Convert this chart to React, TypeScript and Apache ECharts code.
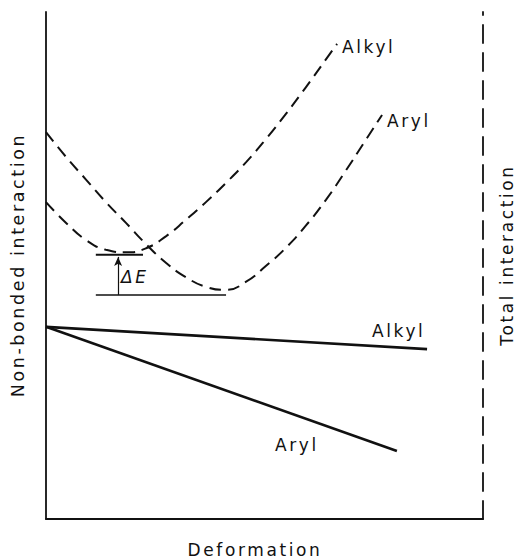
import React, { useEffect, useRef } from "react";
import * as echarts from "echarts";

// Deformation (x, 0..100) vs interaction energy (y, 0..100)
const arylDashed: number[][] = [
  [0, 76.3], [4.6, 71.4], [9.2, 66.9], [13.7, 62.5], [18.3, 58.4], [22.9, 54.2],
  [27.5, 50.5], [32.0, 47.7], [36.6, 45.8], [41.2, 45.2], [45.8, 46.8], [50.3, 49.9],
  [54.9, 53.5], [59.5, 57.9], [64.1, 63.0], [68.6, 68.7], [73.2, 74.8], [76.9, 79.7],
];
const alkylDashed: number[][] = [
  [0, 62.5], [4.6, 58.4], [9.2, 55.0], [13.7, 53.1], [18.3, 52.6], [22.9, 53.4],
  [27.5, 55.8], [32.0, 59.0], [36.6, 62.5], [41.2, 66.3], [45.8, 70.4], [50.3, 74.9],
  [54.9, 79.9], [59.5, 85.2], [64.1, 90.7], [66.6, 93.7],
];
const alkylSolid: number[][] = [[0, 37.9], [87.2, 33.5]];
const arylSolid: number[][] = [[0, 37.9], [80.3, 13.4]];
const deltaUpper: number[][] = [[11.4, 52.1], [22.2, 52.1]];
const deltaLower: number[][] = [[11.4, 44.2], [41.2, 44.2]];
const deltaArrow: number[][] = [[16.5, 44.2], [16.5, 51.7]];

const xTitle = "Deformation";
const leftTitle = "Non-bonded interaction";
const rightTitle = "Total interaction";
const curveLabels = ["Alkyl", "Aryl"];
const deltaLabel = "ΔE";

const INK = "#111";
const FONT = "DejaVu Sans";

export default function App() {
  const ref = useRef<HTMLDivElement>(null);

  useEffect(() => {
    if (!ref.current) return;
    const chart = echarts.init(ref.current, undefined, { renderer: "svg" });
    const txt = (text: string, x: number, y: number, extra: any = {}) => ({
      type: "text",
      x,
      y,
      silent: true,
      ...extra,
      style: {
        text,
        fill: INK,
        font: `17px "${FONT}"`,
        align: "left",
        verticalAlign: "middle",
        ...(extra.style || {}),
      },
    });
    const baseLine = (data: number[][], dashed: boolean, width: number) => ({
      type: "line",
      data,
      symbol: "none",
      smooth: dashed ? 0.5 : false,
      silent: true,
      emphasis: { disabled: true },
      lineStyle: { color: INK, width, type: dashed ? [12, 7] : "solid" },
    });
    chart.setOption({
      animation: false,
      backgroundColor: "#fff",
      grid: { left: 46, right: 35, top: 12, bottom: 40, containLabel: false },
      xAxis: {
        type: "value",
        min: 0,
        max: 100,
        axisLine: { show: true, onZero: false, lineStyle: { color: INK, width: 1.8 } },
        axisTick: { show: false },
        axisLabel: { show: false },
        splitLine: { show: false },
      },
      yAxis: [
        {
          type: "value",
          min: 0,
          max: 100,
          axisLine: { show: true, onZero: false, lineStyle: { color: INK, width: 1.8 } },
          axisTick: { show: false },
          axisLabel: { show: false },
          splitLine: { show: false },
        },
        {
          type: "value",
          position: "right",
          min: 0,
          max: 100,
          axisLine: { show: true, onZero: false, lineStyle: { color: INK, width: 1.8, type: [18, 10] } },
          axisTick: { show: false },
          axisLabel: { show: false },
          splitLine: { show: false },
        },
      ],
      series: [
        baseLine(arylDashed, true, 2),
        baseLine(alkylDashed, true, 2),
        baseLine(alkylSolid, false, 2.6),
        baseLine(arylSolid, false, 2.6),
        baseLine(deltaUpper, false, 2),
        {
          ...baseLine(deltaLower, false, 1.5),
          markLine: {
            silent: true,
            symbol: ["none", "arrow"],
            symbolSize: [6, 9],
            label: { show: false },
            lineStyle: { color: INK, width: 1.2, type: "solid" },
            data: [[{ coord: deltaArrow[0] }, { coord: deltaArrow[1] }]],
          },
        },
      ],
      graphic: [
        txt(xTitle, 255, 550, { style: { align: "center" } }),
        txt(leftTitle, 18, 265, { rotation: Math.PI / 2, style: { align: "center", font: `17.5px "${FONT}"` } }),
        txt(rightTitle, 507, 255, { rotation: Math.PI / 2, style: { align: "center" } }),
        txt(curveLabels[0], 342, 47),
        txt(curveLabels[1], 387, 121),
        txt(curveLabels[0], 372, 331),
        txt(curveLabels[1], 275, 445),
        txt(deltaLabel, 121, 277, { style: { font: `italic 17px "${FONT}"` } }),
      ],
    });
    return () => chart.dispose();
  }, []);

  return (
    <>
      <style>{`body{margin:0} .chartbox text{letter-spacing:2.6px}`}</style>
      <div
        ref={ref}
        className="chartbox"
        style={{ position: "absolute", left: 0, top: 0, width: 518, height: 559 }}
      />
    </>
  );
}
